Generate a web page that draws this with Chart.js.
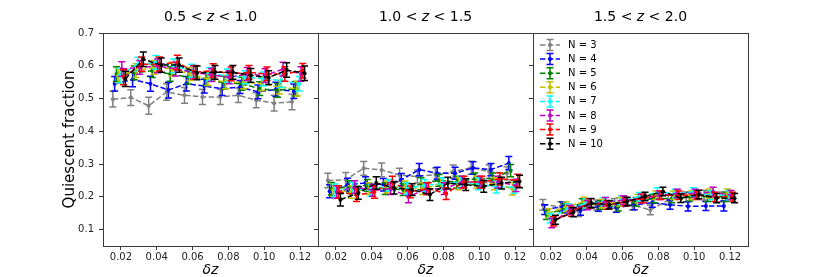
<!DOCTYPE html>
<html>
<head>
<meta charset="utf-8">
<script src="https://cdn.jsdelivr.net/npm/chart.js@4.4.1/dist/chart.umd.min.js"></script>
<style>
  html, body { margin: 0; padding: 0; background: #fff; overflow: hidden; }
  #wrap { position: relative; width: 830px; height: 277px; }
  #wrap canvas { position: absolute; left: 0; top: 0; }
</style>
</head>
<body>
<div id="wrap">
  <canvas id="p1" width="830" height="277"></canvas>
  <canvas id="p2" width="830" height="277"></canvas>
  <canvas id="p3" width="830" height="277"></canvas>
</div>
<script>
// bins in dz, each N is shifted a little so the bars don't overlap
const dzBins = [0.015, 0.025, 0.035, 0.045, 0.055, 0.065, 0.075, 0.085, 0.095, 0.105, 0.115];
const nLabels = [3, 4, 5, 6, 7, 8, 9, 10];
const nShift = [0.0005, 0.0015, 0.0025, 0.0035, 0.0045, 0.0055, 0.0065, 0.0075];
const colors = ['#808080', '#0000ff', '#008000', '#bfbf00', '#00ffff', '#bf00bf', '#ff0000', '#000000'];
const xTicks = [0.02, 0.04, 0.06, 0.08, 0.10, 0.12];
const yTicks = [0.1, 0.2, 0.3, 0.4, 0.5, 0.6, 0.7];
const titles = [['0.5', '1.0'], ['1.0', '1.5'], ['1.5', '2.0']];

// 0.5 < z < 1.0
const z1N3  = [0.498, 0.503, 0.478, 0.520, 0.510, 0.505, 0.505, 0.510, 0.495, 0.486, 0.490];
const z1N4  = [0.545, 0.558, 0.545, 0.526, 0.545, 0.538, 0.530, 0.535, 0.520, 0.528, 0.522];
const z1N5  = [0.575, 0.578, 0.585, 0.575, 0.565, 0.560, 0.548, 0.545, 0.530, 0.525, 0.530];
const z1N6  = [0.570, 0.585, 0.595, 0.590, 0.575, 0.560, 0.550, 0.550, 0.545, 0.535, 0.530];
const z1N7  = [0.570, 0.605, 0.610, 0.600, 0.585, 0.575, 0.570, 0.565, 0.560, 0.555, 0.545];
const z1N8  = [0.590, 0.595, 0.600, 0.590, 0.580, 0.572, 0.565, 0.575, 0.570, 0.590, 0.575];
const z1N9  = [0.565, 0.605, 0.605, 0.610, 0.580, 0.585, 0.575, 0.580, 0.575, 0.575, 0.585];
const z1N10 = [0.560, 0.620, 0.602, 0.602, 0.578, 0.580, 0.580, 0.571, 0.564, 0.587, 0.577];
const e1N3  = [0.024, 0.024, 0.026, 0.025, 0.024, 0.023, 0.023, 0.022, 0.023, 0.024, 0.024];
const e1N4  = [0.022, 0.022, 0.023, 0.024, 0.022, 0.021, 0.021, 0.020, 0.021, 0.022, 0.022];
const e1N5  = [0.022, 0.021, 0.021, 0.022, 0.021, 0.020, 0.020, 0.020, 0.021, 0.021, 0.022];
const e1N6  = [0.022, 0.021, 0.021, 0.021, 0.020, 0.020, 0.020, 0.020, 0.021, 0.021, 0.022];
const e1N7  = [0.022, 0.021, 0.021, 0.021, 0.020, 0.020, 0.020, 0.020, 0.021, 0.021, 0.022];
const e1N8  = [0.022, 0.021, 0.021, 0.021, 0.020, 0.020, 0.020, 0.020, 0.021, 0.021, 0.022];
const e1N9  = [0.023, 0.022, 0.022, 0.022, 0.021, 0.021, 0.021, 0.021, 0.021, 0.022, 0.022];
const e1N10 = [0.023, 0.022, 0.022, 0.022, 0.021, 0.021, 0.021, 0.021, 0.021, 0.022, 0.022];

// 1.0 < z < 1.5
const z2N3  = [0.250, 0.252, 0.287, 0.282, 0.267, 0.262, 0.268, 0.277, 0.289, 0.277, 0.272];
const z2N4  = [0.217, 0.237, 0.242, 0.237, 0.252, 0.283, 0.272, 0.272, 0.288, 0.283, 0.303];
const z2N5  = [0.225, 0.230, 0.235, 0.225, 0.222, 0.240, 0.250, 0.245, 0.255, 0.255, 0.280];
const z2N6  = [0.220, 0.215, 0.225, 0.230, 0.230, 0.225, 0.240, 0.240, 0.245, 0.240, 0.225];
const z2N7  = [0.220, 0.225, 0.220, 0.235, 0.225, 0.235, 0.240, 0.245, 0.240, 0.230, 0.230];
const z2N8  = [0.215, 0.230, 0.220, 0.225, 0.200, 0.225, 0.225, 0.245, 0.245, 0.245, 0.235];
const z2N9  = [0.215, 0.205, 0.215, 0.245, 0.215, 0.225, 0.210, 0.245, 0.245, 0.255, 0.250];
const z2N10 = [0.191, 0.212, 0.242, 0.227, 0.222, 0.207, 0.242, 0.237, 0.232, 0.242, 0.247];
const e2N3  = [0.022, 0.022, 0.021, 0.021, 0.020, 0.020, 0.020, 0.020, 0.020, 0.020, 0.020];
const e2N4  = [0.020, 0.020, 0.019, 0.019, 0.019, 0.019, 0.018, 0.018, 0.019, 0.019, 0.020];
const e2N5  = [0.019, 0.019, 0.018, 0.018, 0.018, 0.018, 0.018, 0.018, 0.018, 0.018, 0.019];
const e2N6  = [0.019, 0.019, 0.018, 0.018, 0.018, 0.018, 0.018, 0.018, 0.018, 0.018, 0.019];
const e2N7  = [0.019, 0.019, 0.018, 0.018, 0.018, 0.018, 0.018, 0.018, 0.018, 0.018, 0.019];
const e2N8  = [0.019, 0.019, 0.018, 0.018, 0.018, 0.018, 0.018, 0.018, 0.018, 0.018, 0.019];
const e2N9  = [0.019, 0.019, 0.019, 0.018, 0.018, 0.018, 0.018, 0.018, 0.018, 0.018, 0.019];
const e2N10 = [0.019, 0.019, 0.019, 0.018, 0.018, 0.018, 0.018, 0.018, 0.018, 0.018, 0.019];

// 1.5 < z < 2.0
const z3N3  = [0.176, 0.170, 0.155, 0.175, 0.180, 0.175, 0.160, 0.190, 0.200, 0.205, 0.200];
const z3N4  = [0.161, 0.170, 0.158, 0.170, 0.167, 0.175, 0.182, 0.176, 0.171, 0.172, 0.172];
const z3N5  = [0.145, 0.165, 0.180, 0.175, 0.170, 0.185, 0.195, 0.195, 0.200, 0.200, 0.200];
const z3N6  = [0.150, 0.170, 0.185, 0.180, 0.185, 0.195, 0.205, 0.205, 0.205, 0.210, 0.210];
const z3N7  = [0.135, 0.165, 0.180, 0.185, 0.190, 0.200, 0.215, 0.210, 0.215, 0.205, 0.205];
const z3N8  = [0.120, 0.160, 0.175, 0.185, 0.190, 0.195, 0.205, 0.210, 0.210, 0.215, 0.205];
const z3N9  = [0.125, 0.155, 0.180, 0.175, 0.185, 0.195, 0.205, 0.205, 0.205, 0.200, 0.200];
const z3N10 = [0.130, 0.153, 0.181, 0.176, 0.186, 0.201, 0.216, 0.196, 0.207, 0.196, 0.196];
const e3N3  = [0.016, 0.015, 0.015, 0.015, 0.015, 0.015, 0.015, 0.015, 0.015, 0.015, 0.015];
const e3N4  = [0.015, 0.014, 0.014, 0.014, 0.014, 0.014, 0.014, 0.014, 0.014, 0.014, 0.015];
const e3N5  = [0.014, 0.014, 0.014, 0.013, 0.013, 0.013, 0.013, 0.013, 0.013, 0.014, 0.014];
const e3N6  = [0.014, 0.014, 0.014, 0.013, 0.013, 0.013, 0.013, 0.013, 0.013, 0.014, 0.014];
const e3N7  = [0.014, 0.014, 0.014, 0.013, 0.013, 0.013, 0.013, 0.013, 0.013, 0.014, 0.014];
const e3N8  = [0.014, 0.014, 0.014, 0.013, 0.013, 0.013, 0.013, 0.013, 0.013, 0.014, 0.014];
const e3N9  = [0.014, 0.014, 0.014, 0.013, 0.013, 0.013, 0.013, 0.013, 0.013, 0.014, 0.014];
const e3N10 = [0.014, 0.014, 0.014, 0.013, 0.013, 0.013, 0.013, 0.013, 0.013, 0.014, 0.014];

const panelValues = [
  [z1N3, z1N4, z1N5, z1N6, z1N7, z1N8, z1N9, z1N10],
  [z2N3, z2N4, z2N5, z2N6, z2N7, z2N8, z2N9, z2N10],
  [z3N3, z3N4, z3N5, z3N6, z3N7, z3N8, z3N9, z3N10]
];
const panelErrors = [
  [e1N3, e1N4, e1N5, e1N6, e1N7, e1N8, e1N9, e1N10],
  [e2N3, e2N4, e2N5, e2N6, e2N7, e2N8, e2N9, e2N10],
  [e3N3, e3N4, e3N5, e3N6, e3N7, e3N8, e3N9, e3N10]
];

// plot area edges, pixels
const areaLeft = [103, 318, 533];
const areaWidth = 215;
const FONT = "'DejaVu Sans', sans-serif";
const DASH = [5.5, 2.4];
const CAP = 3.5;

function drawErrBar(ctx, x, yTop, yBot, color) {
  ctx.save();
  ctx.strokeStyle = color;
  ctx.lineWidth = 1.5;
  ctx.setLineDash([]);
  ctx.beginPath();
  ctx.moveTo(x, yTop); ctx.lineTo(x, yBot);
  ctx.moveTo(x - CAP, yTop); ctx.lineTo(x + CAP, yTop);
  ctx.moveTo(x - CAP, yBot); ctx.lineTo(x + CAP, yBot);
  ctx.stroke();
  ctx.restore();
}

const errorBars = {
  id: 'errorBars',
  afterDatasetDraw(chart, args) {
    const ds = chart.data.datasets[args.index];
    const ys = chart.scales.y;
    args.meta.data.forEach((pt, k) => {
      const d = ds.data[k];
      drawErrBar(chart.ctx, pt.x, ys.getPixelForValue(d.y + d.e), ys.getPixelForValue(d.y - d.e), ds.borderColor);
    });
  }
};

const frame = {
  id: 'frame',
  afterDraw(chart) {
    const a = chart.chartArea, ctx = chart.ctx;
    ctx.save();
    ctx.strokeStyle = '#3a3a3a';
    ctx.lineWidth = 1;
    ctx.strokeRect(Math.round(a.left) + 0.5, Math.round(a.top) + 0.5, Math.round(a.right - a.left), Math.round(a.bottom - a.top));
    ctx.restore();
  }
};

// "lo < z < hi" with italic z
const panelTitle = {
  id: 'panelTitle',
  afterDraw(chart, args, opts) {
    const ctx = chart.ctx, a = chart.chartArea;
    const parts = [[opts.lo + ' < ', 'normal'], ['z', 'italic'], [' < ' + opts.hi, 'normal']];
    ctx.save();
    ctx.fillStyle = '#000';
    ctx.textBaseline = 'middle';
    ctx.textAlign = 'left';
    let total = 0;
    parts.forEach(p => { ctx.font = p[1] + ' 14px ' + FONT; total += ctx.measureText(p[0]).width; });
    let x = (a.left + a.right) / 2 - total / 2;
    parts.forEach(p => {
      ctx.font = p[1] + ' 14px ' + FONT;
      ctx.fillText(p[0], x, 17);
      x += ctx.measureText(p[0]).width;
    });
    ctx.restore();
  }
};

const errLegend = {
  id: 'errLegend',
  afterDraw(chart, args, opts) {
    if (!opts.show) return;
    const ctx = chart.ctx, a = chart.chartArea;
    chart.data.datasets.forEach((ds, i) => {
      const y = a.top + 12 + i * 14.1;
      const x0 = a.left + 7, x1 = a.left + 27, xm = (x0 + x1) / 2;
      ctx.save();
      ctx.strokeStyle = ds.borderColor;
      ctx.lineWidth = 1.5;
      ctx.setLineDash(DASH);
      ctx.beginPath(); ctx.moveTo(x0, y); ctx.lineTo(x1, y); ctx.stroke();
      ctx.restore();
      drawErrBar(ctx, xm, y - 5.5, y + 5.5, ds.borderColor);
      ctx.save();
      ctx.fillStyle = ds.borderColor;
      ctx.beginPath(); ctx.arc(xm, y, 2, 0, Math.PI * 2); ctx.fill();
      ctx.fillStyle = '#000';
      ctx.font = '10px ' + FONT;
      ctx.textBaseline = 'middle';
      ctx.fillText(ds.label, a.left + 35, y + 0.5);
      ctx.restore();
    });
  }
};

function makePanel(idx) {
  const first = idx === 0;
  const yW = first ? 42 : 5;
  const left = areaLeft[idx];
  const datasets = nLabels.map((n, i) => ({
    label: 'N = ' + n,
    data: dzBins.map((b, k) => ({ x: b + nShift[i], y: panelValues[idx][i][k], e: panelErrors[idx][i][k] })),
    borderColor: colors[i],
    backgroundColor: colors[i],
    borderWidth: 1.5,
    borderDash: DASH,
    pointRadius: 2,
    pointBorderWidth: 0,
    pointHoverRadius: 2,
    tension: 0,
    order: nLabels.length - 1 - i
  }));

  new Chart(document.getElementById('p' + (idx + 1)), {
    type: 'line',
    data: { datasets },
    options: {
      responsive: false,
      animation: false,
      events: [],
      layout: { padding: { left: left - yW, right: 830 - left - areaWidth, top: 33, bottom: 0 } },
      plugins: {
        legend: { display: false },
        tooltip: { enabled: false },
        panelTitle: { lo: titles[idx][0], hi: titles[idx][1] },
        errLegend: { show: idx === 2 }
      },
      scales: {
        x: {
          type: 'linear', min: 0.01, max: 0.13,
          afterBuildTicks: s => { s.ticks = xTicks.map(v => ({ value: v })); },
          afterFit: s => { s.height = 31; },
          ticks: { callback: v => v.toFixed(2), font: { size: 10, family: FONT }, color: '#222', padding: 1, maxRotation: 0, autoSkip: false },
          grid: { display: true, drawOnChartArea: false, drawTicks: true, tickLength: 4, color: '#3a3a3a' },
          border: { display: false },
          title: { display: true, text: 'δz', font: { size: 14, style: 'italic', family: FONT, lineHeight: 1 }, color: '#000', padding: 0 }
        },
        y: {
          type: 'linear', min: 0.05, max: 0.7,
          afterBuildTicks: s => { s.ticks = yTicks.map(v => ({ value: v })); },
          afterFit: s => { s.width = yW; },
          ticks: { display: first, callback: v => v.toFixed(1), font: { size: 10, family: FONT }, color: '#222', padding: 5 },
          grid: { display: true, drawOnChartArea: false, drawTicks: true, tickLength: 4, color: '#3a3a3a' },
          border: { display: false },
          title: { display: first, text: 'Quiescent fraction', font: { size: 15, family: FONT, lineHeight: 1.2 }, color: '#000', padding: 0 }
        }
      }
    },
    plugins: [errorBars, frame, panelTitle, errLegend]
  });
}

[0, 1, 2].forEach(makePanel);
</script>
</body>
</html>
